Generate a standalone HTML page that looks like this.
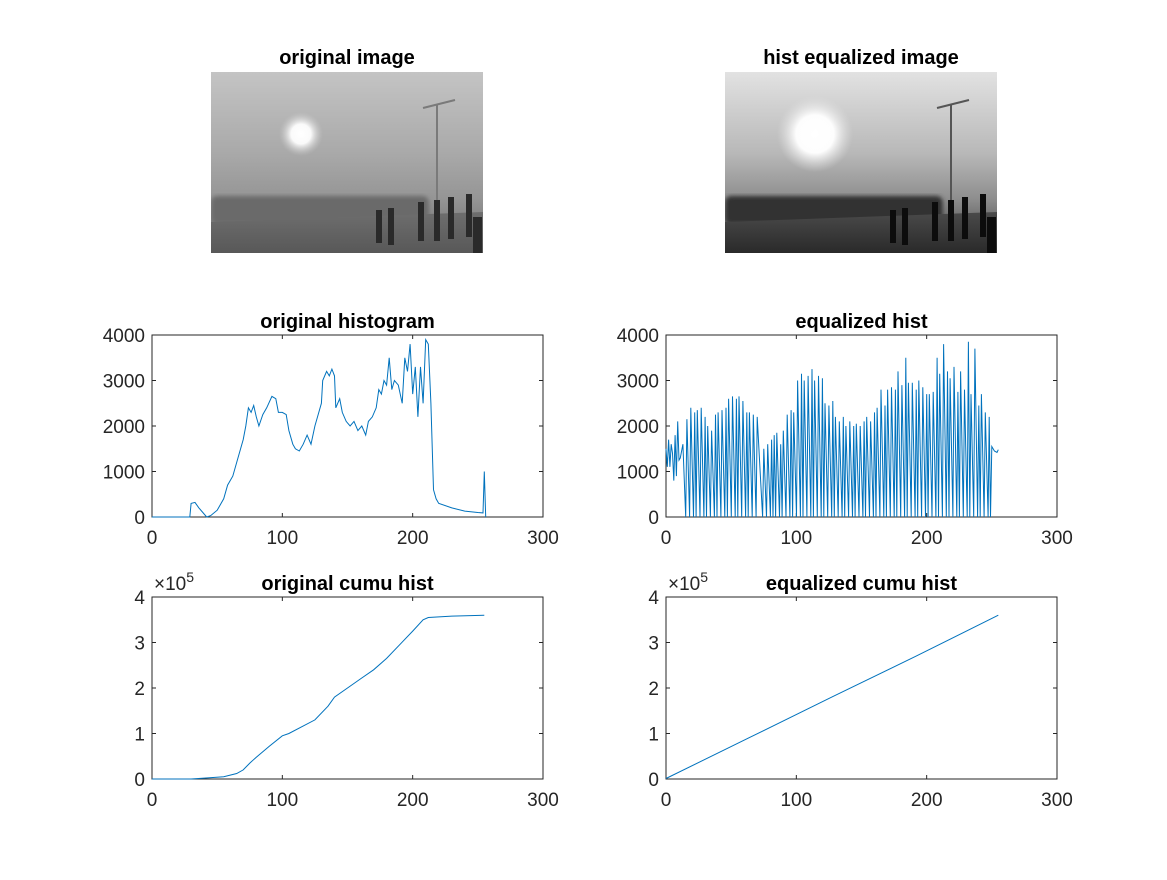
<!DOCTYPE html>
<html><head><meta charset="utf-8">
<style>
html,body{margin:0;padding:0;background:#fff;}
body{width:1167px;height:875px;overflow:hidden;font-family:"Liberation Sans",Arial,sans-serif;}
svg text{font-family:"Liberation Sans",Arial,sans-serif;}
</style></head>
<body>
<svg id="fig" width="1167" height="875" viewBox="0 0 1167 875" xmlns="http://www.w3.org/2000/svg">
<defs>
  <linearGradient id="sky1" x1="0" y1="0" x2="0" y2="1">
    <stop offset="0" stop-color="#c4c4c4"/><stop offset="0.45" stop-color="#a9a9a9"/><stop offset="0.7" stop-color="#959595"/><stop offset="1" stop-color="#6a6a6a"/>
  </linearGradient>
  <linearGradient id="sky2" x1="0" y1="0" x2="0" y2="1">
    <stop offset="0" stop-color="#e2e2e2"/><stop offset="0.45" stop-color="#b8b8b8"/><stop offset="0.7" stop-color="#8e8e8e"/><stop offset="1" stop-color="#3a3a3a"/>
  </linearGradient>
  <radialGradient id="sun1"><stop offset="0" stop-color="#fff"/><stop offset="0.45" stop-color="#fafafa"/><stop offset="1" stop-color="#c8c8c8" stop-opacity="0"/></radialGradient>
  <radialGradient id="sun2"><stop offset="0" stop-color="#fff"/><stop offset="0.5" stop-color="#fdfdfd"/><stop offset="1" stop-color="#e0e0e0" stop-opacity="0"/></radialGradient>
  <linearGradient id="gnd1" x1="0" y1="0" x2="0" y2="1"><stop offset="0" stop-color="#6e6e6e"/><stop offset="1" stop-color="#585858"/></linearGradient>
  <linearGradient id="gnd2" x1="0" y1="0" x2="0" y2="1"><stop offset="0" stop-color="#4a4a4a"/><stop offset="1" stop-color="#2a2a2a"/></linearGradient>
  <clipPath id="clip1"><rect x="211" y="72" width="272" height="181"/></clipPath>
  <clipPath id="clip2"><rect x="725" y="72" width="272" height="181"/></clipPath>
  <filter id="blur"><feGaussianBlur stdDeviation="2"/></filter>
</defs>
<g id="images"></g>
<g id="axes"></g>
</svg>
<script>
// ---------- data ----------
const origBins = [0,29,30,33,36,42,45,50,55,58,62,65,70,72,74,76,78,80,82,85,88,92,95,97,100,103,105,108,110,113,116,119,122,125,128,130,131,134,136,138,140,141,144,146,149,152,155,158,161,164,166,169,172,174,176,178,180,182,184,186,189,192,194,196,198,200,202,204,206,208,210,212,214,216,218,220,230,240,250,254,255,256];
const origVals = [0,0,300,320,200,0,30,150,400,700,900,1200,1700,2000,2400,2300,2450,2200,2000,2250,2400,2650,2600,2300,2300,2250,1900,1600,1500,1450,1600,1800,1600,2000,2300,2500,3000,3200,3100,3250,3100,2400,2600,2300,2100,2000,2100,1900,2000,1800,2100,2200,2400,2800,2700,3000,2900,3500,2800,3000,2900,2500,3500,3200,3800,2700,3300,2200,3300,2500,3900,3800,2500,600,400,300,200,130,100,90,1000,0];
const eqNoiseBins = [0,1,2,3,4,5,6,7,8,9,10,11,13];
const eqNoiseVals = [1500,1100,1700,1100,1600,1400,800,1800,900,2100,1250,1300,1600];
const eqPeakBins = [16,19,22,24,27,30,32,35,38,40,43,46,48,51,54,56,59,62,64,67,70,75,78,81,83,85,88,90,93,96,98,101,104,106,109,112,114,117,120,122,125,128,130,133,136,138,141,144,146,149,152,154,157,160,162,165,168,170,173,176,178,181,184,186,189,192,194,197,200,202,205,208,210,213,216,218,221,224,226,229,232,234,237,240,242,245,248];
const eqPeakVals = [2150,2400,2300,2350,2400,2200,2000,1900,2250,2300,2350,2400,2600,2650,2600,2650,2550,2300,2300,2250,2200,1500,1600,1700,1800,1850,1600,1900,2250,2350,2300,3000,3150,3000,3100,3250,3000,3100,3050,2500,2450,2550,2200,2100,2200,2000,2100,2000,2050,2000,2100,2200,2100,2300,2400,2800,2450,2800,2850,2800,3200,2900,3500,2950,2950,2800,3000,2850,2700,2700,2750,3500,3150,3800,3200,3050,3300,2750,3200,2800,3850,2700,3700,2450,2700,2300,2200];
const eqTailBins = [250,252,254,255];
const eqTailVals = [1550,1450,1420,1480];
const ocBins = [0,30,40,55,65,70,75,80,90,100,105,115,125,135,140,150,160,170,180,190,200,208,212,230,255];
const ocVals = [0,0,2000,5000,12000,20000,35000,48000,72000,95000,100000,115000,130000,160000,180000,200000,220000,240000,265000,295000,325000,350000,355000,358000,360000];
const ecBins = [0,64,128,192,255];
const ecVals = [1200,91000,181000,270000,360000];
const xTicks = [0,100,200,300];
const hTicks = [0,1000,2000,3000,4000];
const cTicks = [0,1,2,3,4];

const NS = "http://www.w3.org/2000/svg";
function el(tag, attrs, parent, txt){
  const e = document.createElementNS(NS, tag);
  for (const k in attrs) e.setAttribute(k, attrs[k]);
  if (txt !== undefined) e.textContent = txt;
  parent.appendChild(e); return e;
}

// ---------- images ----------
const imgG = document.getElementById('images');
function drawImage(x0, title, name, eq){
  const outer = el('g', {}, imgG);
  
  
  const t = el('text', {x: x0+136, y: 64, 'text-anchor':'middle', 'font-size':20, 'font-weight':'bold', fill:'#000'}, outer, title);
  
  
  const g = el('g', {'clip-path': eq ? 'url(#clip2)' : 'url(#clip1)'}, outer);
  const y0 = 72, w = 272, h = 181;
  el('rect', {x:x0, y:y0, width:w, height:h, fill: eq ? 'url(#sky2)' : 'url(#sky1)'}, g);
  el('circle', {cx:x0+90, cy:y0+62, r: eq?38:22, fill: eq?'url(#sun2)':'url(#sun1)'}, g);
  el('line', {x1:x0+226, y1:y0+32, x2:x0+226, y2:y0+140, stroke: eq?'#555':'#7a7a7a', 'stroke-width':2}, g);
  el('line', {x1:x0+212, y1:y0+36, x2:x0+244, y2:y0+28, stroke: eq?'#555':'#7a7a7a', 'stroke-width':2}, g);
  el('rect', {x:x0, y:y0+124, width:w*0.8, height:28, fill: eq?'#333':'#6a6a6a', rx:6, filter:'url(#blur)'}, g);
  el('polygon', {points:`${x0},${y0+150} ${x0+w},${y0+140} ${x0+w},${y0+h} ${x0},${y0+h}`, fill: eq?'url(#gnd2)':'url(#gnd1)'}, g);
  const bol = [[165,138,10],[177,136,8],[207,130,12],[223,128,12],[237,125,14],[255,122,16],[262,145,0]];
  bol.forEach(b=>{
    el('rect', {x:x0+b[0], y:y0+b[1], width:(b[0]>=262?9:6), height:h-b[1]-b[2], fill: eq?'#0c0c0c':'#2a2a2a'}, g);
  });
}
drawImage(211, 'original image', 'original-image', false);
drawImage(725, 'hist equalized image', 'equalized-image', true);

// ---------- axes ----------
const axG = document.getElementById('axes');
function makeAxes(name, left, top, title, yMax, yTicks, yLabelFn, exp){
  const W = 391, H = 182;
  const g = el('g', {}, axG);
  
  
  const sx = v => left + v/300*W;
  const sy = v => top + H - v/yMax*H;
  el('rect', {x:left, y:top, width:W, height:H, fill:'#fff', stroke:'#262626', 'stroke-width':1}, g);
  xTicks.forEach(t=>{
    const x = sx(t);
    el('line', {x1:x, y1:top+H, x2:x, y2:top+H-4, stroke:'#262626'}, g);
    el('line', {x1:x, y1:top, x2:x, y2:top+4, stroke:'#262626'}, g);
    const lb = el('text', {x:x, y:top+H+27, 'text-anchor':'middle', 'font-size':19, fill:'#262626'}, g, String(t));
    
    
  });
  yTicks.forEach(t=>{
    const y = sy(yLabelFn ? t*1e5 : t);
    el('line', {x1:left, y1:y, x2:left+4, y2:y, stroke:'#262626'}, g);
    el('line', {x1:left+W, y1:y, x2:left+W-4, y2:y, stroke:'#262626'}, g);
    const lb = el('text', {x:left-7, y:y+7, 'text-anchor':'end', 'font-size':19, fill:'#262626'}, g, String(t));
    
    
  });
  if (exp){
    const e = el('text', {x:left+2, y:top-7, 'font-size':19, fill:'#262626'}, g);
    
    
    el('tspan', {}, e, '\u00d710');
    el('tspan', {dy:-8, 'font-size':14}, e, '5');
  }
  const tt = el('text', {x:left+W/2, y:top-7, 'text-anchor':'middle', 'font-size':20, 'font-weight':'bold', fill:'#000'}, g, title);
  
  
  return {g, sx, sy};
}
function line(ax, xs, ys, name){
  const d = xs.map((x,i)=>(i?'L':'M')+ax.sx(x).toFixed(1)+','+ax.sy(ys[i]).toFixed(1)).join('');
  const p = el('path', {d, fill:'none', stroke:'#0072bd', 'stroke-width':1}, ax.g);
  
  
}

const a1 = makeAxes('original-histogram-chart', 152, 335, 'original histogram', 4000, hTicks, false, false);
line(a1, origBins, origVals, 'original-histogram-line');

const a2 = makeAxes('equalized-histogram-chart', 666, 335, 'equalized hist', 4000, hTicks, false, false);
{
  const xs = eqNoiseBins.slice(), ys = eqNoiseVals.slice();
  eqPeakBins.forEach((b,i)=>{ xs.push(b-0.9); ys.push(0); xs.push(b); ys.push(eqPeakVals[i]); });
  xs.push(eqPeakBins[eqPeakBins.length-1]+1); ys.push(0);
  eqTailBins.forEach((b,i)=>{ xs.push(b); ys.push(eqTailVals[i]); });
  line(a2, xs, ys, 'equalized-histogram-line');
}

const a3 = makeAxes('original-cumulative-chart', 152, 597, 'original cumu hist', 400000, cTicks, true, true);
line(a3, ocBins, ocVals, 'original-cumulative-line');

const a4 = makeAxes('equalized-cumulative-chart', 666, 597, 'equalized cumu hist', 400000, cTicks, true, true);
line(a4, ecBins, ecVals, 'equalized-cumulative-line');
</script>
</body></html>
